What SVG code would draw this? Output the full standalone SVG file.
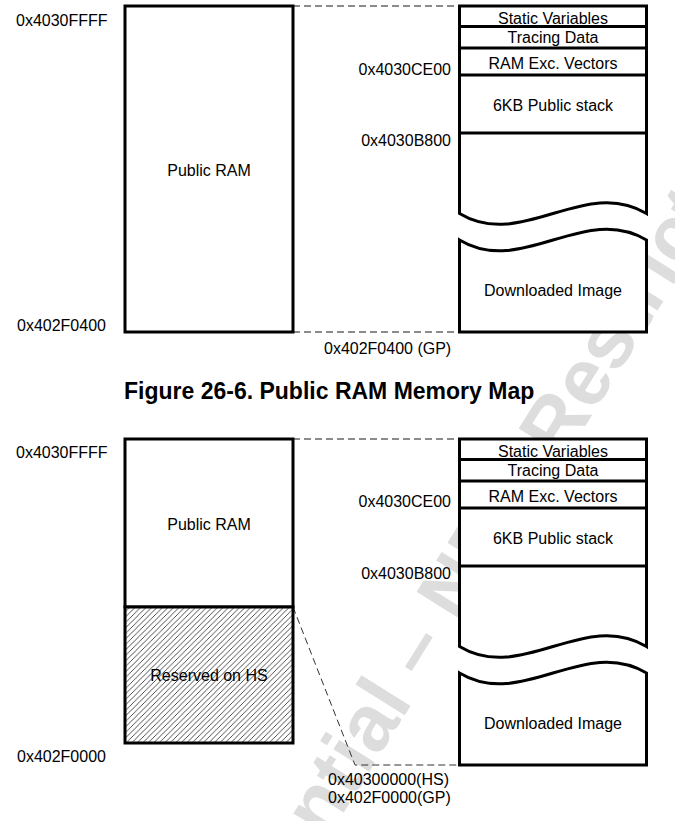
<svg xmlns="http://www.w3.org/2000/svg" width="675" height="821" viewBox="0 0 675 821">
<defs>
<pattern id="hatch" patternUnits="userSpaceOnUse" width="5.5" height="5.5">
<rect width="5.5" height="5.5" fill="#fff"/>
<path d="M-1,1 L1,-1 M0,5.5 L5.5,0 M4.5,6.5 L6.5,4.5" stroke="#222" stroke-width="0.8"/>
</pattern>
<style>
.box{fill:#fff;stroke:#000;stroke-width:3}
.ln{stroke:#000;stroke-width:3;fill:none}
.t{font-family:"Liberation Sans",Arial,sans-serif;font-size:16px;fill:#000}
.c{text-anchor:middle}
.e{text-anchor:end}
.dash{stroke:#666;stroke-width:1.3;stroke-dasharray:7 4;fill:none}
.dash2{stroke:#333;stroke-width:1;stroke-dasharray:7 4;fill:none}
.wm{font-family:"Liberation Sans",Arial,sans-serif;font-weight:bold;fill:#dddddd}
.title{font-family:"Liberation Sans",Arial,sans-serif;font-size:23px;font-weight:bold;fill:#000}
</style>
</defs>
<rect width="675" height="821" fill="#fff"/>
<g id="watermark">
<text class="wm" font-size="80" transform="translate(168.5,1093) rotate(-58)">Confidential – NDA Restrictions</text>
</g>

<g id="connectors">
<path class="dash" d="M293,6 H459.5"/>
<path class="dash" d="M293,332 H459.5"/>
<path class="dash" d="M293,439 H459.5"/>
<path class="dash2" d="M293,607 L355,765 H459.5"/>
</g>

<g id="fig1-public-ram">
<rect class="box" x="125" y="6" width="168" height="326"/>
<text class="t c" x="209" y="176">Public RAM</text>
</g>
<g id="fig1-addr-left">
<text class="t" x="16" y="26">0x4030FFFF</text>
<text class="t" x="17" y="331">0x402F0400</text>
</g>
<g id="fig1-map-upper">
<path class="box" d="M459.5,213.5 V6 H646.5 V213.5 C584.5,176 521.5,251 459.5,213.5 Z"/>
<path class="ln" d="M459.5,26.5 H646.5 M459.5,48 H646.5 M459.5,75 H646.5 M459.5,133 H646.5"/>
<text class="t c" x="553" y="24">Static Variables</text>
<text class="t c" x="553" y="43">Tracing Data</text>
<text class="t c" x="553" y="68.5">RAM Exc. Vectors</text>
<text class="t c" x="553" y="110.5">6KB Public stack</text>
</g>
<g id="fig1-map-lower">
<path class="box" d="M459.5,240 C521.5,277.5 584.5,202.5 646.5,240 V332 H459.5 Z"/>
<text class="t c" x="553" y="295.5">Downloaded Image</text>
</g>
<g id="fig1-addr-right">
<text class="t e" x="451" y="75">0x4030CE00</text>
<text class="t e" x="451" y="146">0x4030B800</text>
<text class="t" x="324" y="354">0x402F0400 (GP)</text>
</g>
<text id="fig1-title" class="title" x="124" y="399">Figure 26-6. Public RAM Memory Map</text>

<g id="fig2-public-ram">
<rect class="box" x="125" y="439" width="168" height="168"/>
<text class="t c" x="209" y="530">Public RAM</text>
</g>
<g id="fig2-reserved">
<rect x="125" y="607" width="168" height="136" fill="url(#hatch)" stroke="#000" stroke-width="3"/>
<text class="t c" x="209" y="681">Reserved on HS</text>
</g>
<g id="fig2-addr-left">
<text class="t" x="16" y="458">0x4030FFFF</text>
<text class="t" x="17" y="762">0x402F0000</text>
</g>
<g id="fig2-map-upper">
<path class="box" d="M459.5,646.5 V439 H646.5 V646.5 C584.5,609 521.5,684 459.5,646.5 Z"/>
<path class="ln" d="M459.5,459.5 H646.5 M459.5,481 H646.5 M459.5,508 H646.5 M459.5,566 H646.5"/>
<text class="t c" x="553" y="457">Static Variables</text>
<text class="t c" x="553" y="476">Tracing Data</text>
<text class="t c" x="553" y="501.5">RAM Exc. Vectors</text>
<text class="t c" x="553" y="543.5">6KB Public stack</text>
</g>
<g id="fig2-map-lower">
<path class="box" d="M459.5,673 C521.5,710.5 584.5,635.5 646.5,673 V765 H459.5 Z"/>
<text class="t c" x="553" y="728.5">Downloaded Image</text>
</g>
<g id="fig2-addr-right">
<text class="t e" x="451" y="507">0x4030CE00</text>
<text class="t e" x="451" y="579">0x4030B800</text>
<text class="t" x="328" y="785">0x40300000(HS)</text>
<text class="t" x="328" y="803">0x402F0000(GP)</text>
</g>
</svg>
